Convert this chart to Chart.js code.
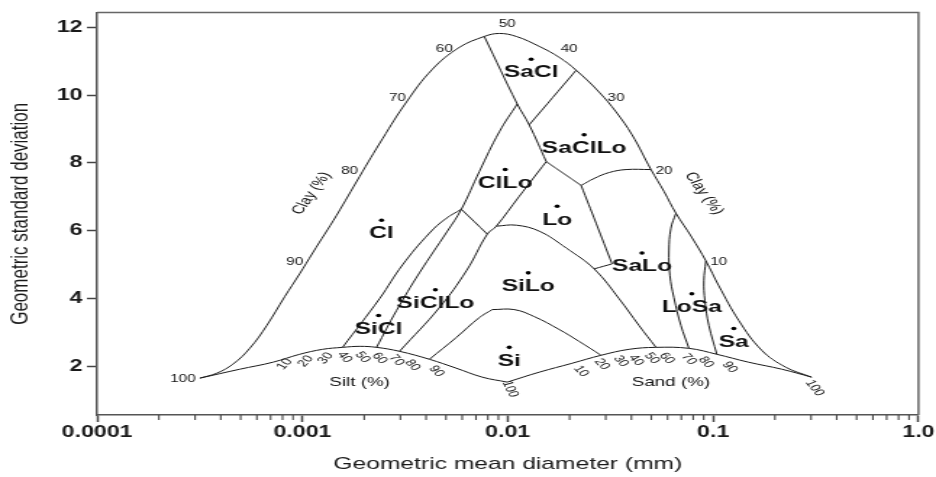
<!DOCTYPE html>
<html><head><meta charset="utf-8">
<script src="https://cdn.jsdelivr.net/npm/chart.js@4.4.1/dist/chart.umd.min.js"></script>
<style>html,body{margin:0;padding:0;background:#fff;overflow:hidden}canvas{display:block}</style>
</head><body>
<canvas id="c" width="646" height="477" style="width:936px;height:477px"></canvas>
<script>
// ---- axis ticks ----
const xTicks = [0.0001, 0.001, 0.01, 0.1, 1];
const xTickLabels = ['0.0001', '0.001', '0.01', '0.1', '1.0'];
const yTicks = [2, 4, 6, 8, 10, 12];

// ---- boundary curves [geometric mean diameter (mm), geometric std dev] ----
const silt0 = [[3.167e-4,1.648],[3.830e-4,1.795],[4.58e-4,2.059],[5.54e-4,2.528],[6.702e-4,3.202],[8.196e-4,4.053],[9.69e-4,4.727],[1.121e-3,5.343],[1.467e-3,6.457],[1.898e-3,7.601],[2.455e-3,8.716],[3.211e-3,9.801],[4.296e-3,10.768],[5.811e-3,11.413],[7.689e-3,11.736],[9.094e-3,11.824],[1.100e-2,11.736],[1.423e-2,11.443],[1.780e-2,11.120],[2.153e-2,10.739],[2.784e-2,10.094],[3.368e-2,9.507],[4.028e-2,8.833],[4.983e-2,7.806],[5.762e-2,7.161],[6.592e-2,6.516],[7.861e-2,5.812],[9.222e-2,5.109],[0.1066,4.375],[0.1334,3.349],[0.1726,2.469],[0.2258,1.971],[0.3020,1.677]];
const sand0 = [[3.167e-4,1.648],[4.955e-4,1.912],[7.17e-4,2.117],[9.69e-4,2.352],[1.254e-3,2.499],[1.569e-3,2.557],[1.898e-3,2.587],[2.296e-3,2.557],[2.970e-3,2.440],[4.154e-3,2.205],[5.619e-3,1.941],[7.518e-3,1.677],[9.945e-3,1.531]];
const clay0 = [[9.945e-3,1.531],[1.423e-2,1.824],[2.059e-2,2.088],[2.847e-2,2.323],[3.895e-2,2.499],[5.269e-2,2.557],[7.624e-2,2.528],[0.1043,2.352],[0.1492,2.117],[0.2159,1.912],[0.3020,1.677]];
const sand45 = [[7.689e-3,11.736],[1.112e-2,9.742],[1.272e-2,9.126],[1.539e-2,8.041]];
const clay35 = [[1.272e-2,9.126],[2.153e-2,10.739]];
const silt28 = [[1.539e-2,8.041],[2.277e-2,7.337]];
const clay20 = [[2.277e-2,7.337],[2.633e-2,7.543],[3.114e-2,7.718],[3.766e-2,7.806],[4.983e-2,7.806]];
const sand52 = [[2.277e-2,7.337],[2.692e-2,6.223],[3.220e-2,5.021]];
const clay7 = [[3.220e-2,5.021],[2.633e-2,4.874]];
const silt50 = [[8.793e-3,6.135],[1.100e-2,6.164],[1.423e-2,5.988],[1.925e-2,5.490],[2.633e-2,4.874],[3.483e-2,3.994],[4.356e-2,3.202],[5.269e-2,2.557]];
const clay27 = [[2.970e-3,2.440],[4.646e-3,3.730],[6.285e-3,4.815],[7.951e-3,5.900],[8.793e-3,6.135],[1.137e-2,7.015],[1.539e-2,8.041]];
const clay40 = [[2.296e-3,2.557],[2.871e-3,3.642],[3.714e-3,4.757],[5.08e-3,5.988],[5.943e-3,6.633],[7.27e-3,7.748],[9.094e-3,8.921],[1.112e-2,9.742]];
const silt40 = [[1.569e-3,2.557],[2.374e-3,3.994],[3.071e-3,4.991],[4.154e-3,5.930],[5.025e-3,6.370],[5.943e-3,6.633]];
const sand20 = [[5.943e-3,6.633],[7.951e-3,5.900]];
const clay12 = [[4.154e-3,2.205],[5.619e-3,2.850],[7.27e-3,3.437],[8.408e-3,3.672]];
const silt80 = [[8.408e-3,3.672],[1.075e-2,3.672],[1.345e-2,3.466],[1.780e-2,3.085],[2.226e-2,2.733],[2.847e-2,2.323]];
const loSaLine = [[6.592e-2,6.516],[6.233e-2,6.076],[6.096e-2,5.402],[6.164e-2,4.669],[6.445e-2,4.023],[6.970e-2,3.202],[7.624e-2,2.528]];
const saLine = [[9.222e-2,5.109],[9.016e-2,4.522],[9.118e-2,3.935],[9.535e-2,3.202],[0.1043,2.352]];

// ---- texture class centroids ----
const classNames = ['SaCl','SaClLo','ClLo','Lo','Cl','SiClLo','SiCl','SiLo','Si','SaLo','LoSa','Sa'];
const classDg = [0.0130,0.02354,0.00972,0.0174,0.002428,0.004442,0.002348,0.01258,0.01017,0.04505,0.0788,0.1261];
const classSg = [11.062,8.833,7.806,6.721,6.311,4.258,3.496,4.757,2.557,5.343,4.141,3.114];

// ---- scale labels along the boundaries ----
const clayLabels = ['100','90','80','70','60','50','40','30','20','10'];
const clayLabelPos = [[2.618e-4,1.619],[9.17e-4,5.079],[1.697e-3,7.748],[2.903e-3,9.918],[4.913e-3,11.355],[9.945e-3,12.088],[1.990e-2,11.355],[3.368e-2,9.918],[5.762e-2,7.748],[0.1066,5.079]];
const siltLabels = ['10','20','30','40','50','60','70','80','90','100'];
const siltLabelPos = [[8.196e-4,2.059],[1.037e-3,2.147],[1.297e-3,2.235],[1.605e-3,2.264],[1.963e-3,2.264],[2.374e-3,2.235],[2.871e-3,2.176],[3.434e-3,2.029],[4.493e-3,1.853],[1.028e-2,1.326]];
const sandLabels = ['10','20','30','40','50','60','70','80','90','100'];
const sandLabelPos = [[2.277e-2,1.853],[2.880e-2,2.059],[3.562e-2,2.147],[4.212e-2,2.176],[5.040e-2,2.235],[5.960e-2,2.235],[7.624e-2,2.205],[9.222e-2,2.117],[0.1206,1.971],[0.3123,1.355]];
const captions = ['Clay (%)','Clay (%)','Silt (%)','Sand (%)'];
const captionPos = [[1.109e-3,7.103],[9.016e-2,7.103],[1.898e-3,1.531],[6.233e-2,1.531]];

const FONT = "'Liberation Sans', Arial, sans-serif";
const DEG = Math.PI / 180;

const curves = [silt0, sand0, clay0, sand45, clay35, silt28, clay20, sand52, clay7, silt50, clay27, clay40, silt40, sand20, clay12, silt80, loSaLine, saLine];
const datasets = curves.map(c => ({
  data: c.map(([x, y]) => ({x, y})),
  showLine: true, borderColor: '#1b1b1b', borderWidth: 1, pointRadius: 0,
  tension: 0.4, fill: false
}));
datasets.push({
  data: classDg.map((x, i) => ({x, y: classSg[i]})),
  showLine: false, pointRadius: 1.8, pointBackgroundColor: '#000', pointBorderWidth: 0
});

const decor = {
  id: 'decor',
  afterDraw(chart) {
    const {ctx, chartArea: a, scales: {x, y}} = chart;
    ctx.save();
    // frame (top/right)
    ctx.strokeStyle = '#666'; ctx.lineWidth = 1.5;
    ctx.beginPath(); ctx.moveTo(a.left, a.top); ctx.lineTo(a.right, a.top); ctx.lineTo(a.right, a.bottom); ctx.stroke();
    // minor log ticks
    ctx.strokeStyle = '#444'; ctx.lineWidth = 1.1;
    for (let d = 0; d < xTicks.length - 1; d++) {
      for (let k = 2; k <= 9; k++) {
        const px = x.getPixelForValue(k * xTicks[d]);
        ctx.beginPath(); ctx.moveTo(px, a.bottom); ctx.lineTo(px, a.bottom + 5); ctx.stroke();
      }
    }
    const put = (txt, px, py, font, rot) => {
      ctx.save(); ctx.translate(px, py); ctx.rotate(rot || 0);
      ctx.font = font; ctx.fillText(txt, 0, 0); ctx.restore();
    };
    ctx.fillStyle = '#111'; ctx.textAlign = 'center'; ctx.textBaseline = 'middle';
    classNames.forEach((n, i) => put(n, x.getPixelForValue(classDg[i]), y.getPixelForValue(classSg[i]) + 13.5, 'bold 17px ' + FONT));
    clayLabels.forEach((t, i) => put(t, x.getPixelForValue(clayLabelPos[i][0]), y.getPixelForValue(clayLabelPos[i][1]), '10.5px ' + FONT));
    siltLabels.forEach((t, i) => put(t, x.getPixelForValue(siltLabelPos[i][0]), y.getPixelForValue(siltLabelPos[i][1]), '10px ' + FONT, (i < 3 ? -55 : (i === 9 ? 70 : 55)) * DEG));
    sandLabels.forEach((t, i) => put(t, x.getPixelForValue(sandLabelPos[i][0]), y.getPixelForValue(sandLabelPos[i][1]), '10px ' + FONT, (i === 9 ? 60 : 55) * DEG));
    const capRot = [-63, 63, 0, 0];
    captions.forEach((t, i) => put(t, x.getPixelForValue(captionPos[i][0]), y.getPixelForValue(captionPos[i][1]), (i < 2 ? '12px ' : '13px ') + FONT, capRot[i] * DEG));
    ctx.restore();
  }
};

new Chart(document.getElementById('c'), {
  type: 'scatter',
  data: {datasets},
  options: {
    responsive: false, animation: false, devicePixelRatio: 1,
    layout: {padding: {top: 10, right: 11, left: 0, bottom: 0}},
    plugins: {legend: {display: false}, tooltip: {enabled: false}},
    scales: {
      x: {
        type: 'logarithmic', min: 0.0001, max: 1, position: 'bottom',
        afterBuildTicks: s => { s.ticks = xTicks.map(v => ({value: v})); },
        afterFit: s => { s.height = 62; },
        ticks: {callback: (v, i) => xTickLabels[i], autoSkip: false, maxRotation: 0, padding: 1, color: '#1a1a1a', font: {family: FONT, size: 16, weight: 'bold'}},
        grid: {drawOnChartArea: false, drawTicks: true, tickLength: 7, tickColor: '#444', tickWidth: 1.5},
        border: {display: true, color: '#555', width: 1.5},
        title: {display: true, text: 'Geometric mean diameter (mm)', color: '#1a1a1a', padding: {top: 0, bottom: 2}, font: {family: FONT, size: 17}}
      },
      y: {
        type: 'linear', min: 0.56, max: 12.44, position: 'left',
        afterBuildTicks: s => { s.ticks = yTicks.map(v => ({value: v})); },
        afterFit: s => { s.width = 67; },
        ticks: {callback: v => String(v), padding: 3, color: '#1a1a1a', font: {family: FONT, size: 16, weight: 'bold'}},
        grid: {drawOnChartArea: false, drawTicks: true, tickLength: 7, tickColor: '#444', tickWidth: 1.5},
        border: {display: true, color: '#555', width: 1.5},
        title: {display: true, text: 'Geometric standard deviation', color: '#1a1a1a', padding: {top: 4, bottom: 0}, font: {family: FONT, size: 17}}
      }
    }
  },
  plugins: [decor]
});
</script></body></html>
